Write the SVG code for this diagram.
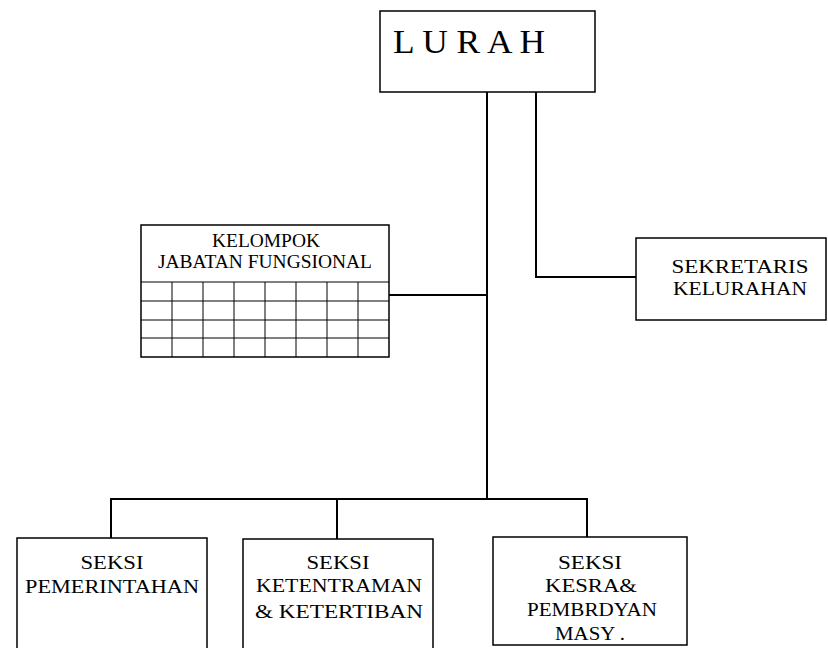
<svg xmlns="http://www.w3.org/2000/svg" width="828" height="648" viewBox="0 0 828 648">
<style>
.box{fill:#fff;stroke:#000;stroke-width:1.5}
.grid{stroke:#000;stroke-width:1;fill:none}
.ln{stroke:#000;stroke-width:2;fill:none}
.t{font-family:"Liberation Serif","DejaVu Serif",serif;font-size:18px;fill:#000;text-anchor:middle}
.big{font-family:"Liberation Serif","DejaVu Serif",serif;font-size:33px;fill:#000}
</style>
<rect width="828" height="648" fill="#fff"/>
<g id="connectors">
<path class="ln" d="M487 92 V499"/>
<path class="ln" d="M536 92 V277 H636"/>
<path class="ln" d="M389 295 H487"/>
<path class="ln" d="M111 538 V499 H587 V537"/>
<path class="ln" d="M337 499 V539"/>
</g>
<g id="lurah">
<rect class="box" x="380" y="11" width="215" height="81"/>
<text class="big" x="393" y="53" textLength="152" lengthAdjust="spacingAndGlyphs">L U R A H</text>
</g>
<g id="kelompok">
<rect class="box" x="141" y="225" width="248" height="132"/>
<path class="grid" d="M141 282 H389 M141 301 H389 M141 320 H389 M141 338 H389 M172 282 V357 M203 282 V357 M234 282 V357 M265 282 V357 M296 282 V357 M327 282 V357 M358 282 V357"/>
<text class="t" x="266" y="247" textLength="108" lengthAdjust="spacingAndGlyphs">KELOMPOK</text>
<text class="t" x="265" y="268" textLength="214" lengthAdjust="spacingAndGlyphs">JABATAN FUNGSIONAL</text>
</g>
<g id="sekretaris">
<rect class="box" x="636" y="238" width="190" height="82"/>
<text class="t" x="740" y="273" textLength="137" lengthAdjust="spacingAndGlyphs">SEKRETARIS</text>
<text class="t" x="740" y="295" textLength="134" lengthAdjust="spacingAndGlyphs">KELURAHAN</text>
</g>
<g id="pemerintahan">
<rect class="box" x="17" y="538" width="190" height="120"/>
<text class="t" x="112" y="569" textLength="63" lengthAdjust="spacingAndGlyphs">SEKSI</text>
<text class="t" x="112" y="593" textLength="174" lengthAdjust="spacingAndGlyphs">PEMERINTAHAN</text>
</g>
<g id="ketentraman">
<rect class="box" x="243" y="539" width="190" height="120"/>
<text class="t" x="338" y="569" textLength="63" lengthAdjust="spacingAndGlyphs">SEKSI</text>
<text class="t" x="339" y="592" textLength="166" lengthAdjust="spacingAndGlyphs">KETENTRAMAN</text>
<text class="t" x="339" y="618" textLength="168" lengthAdjust="spacingAndGlyphs">&amp; KETERTIBAN</text>
</g>
<g id="kesra">
<rect class="box" x="493" y="537" width="194" height="108"/>
<text class="t" x="590" y="569" textLength="64" lengthAdjust="spacingAndGlyphs">SEKSI</text>
<text class="t" x="591" y="592" textLength="92" lengthAdjust="spacingAndGlyphs">KESRA&amp;</text>
<text class="t" x="592" y="616" textLength="130" lengthAdjust="spacingAndGlyphs">PEMBRDYAN</text>
<text class="t" x="590" y="640" textLength="70" lengthAdjust="spacingAndGlyphs">MASY .</text>
</g>
</svg>
